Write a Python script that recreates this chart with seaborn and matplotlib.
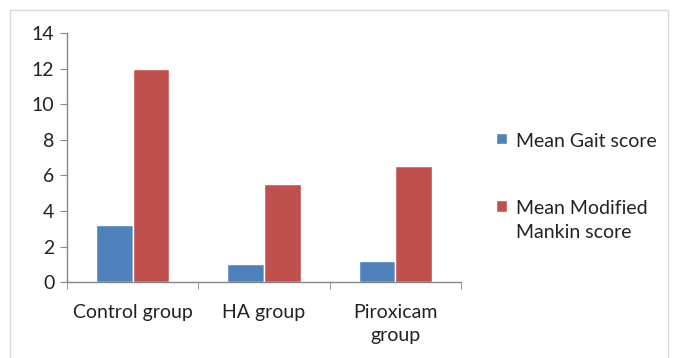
import pandas as pd
import numpy as np
import seaborn as sns
import matplotlib.pyplot as plt
from matplotlib.lines import Line2D

groups = ['Control group', 'HA group', 'Piroxicam\ngroup']
gait_score = [3.2, 1.0, 1.2]
mankin_score = [12.0, 5.5, 6.5]
series = ['Mean Gait score', 'Mean Modified\nMankin score']
colors = ['#4F81BD', '#C0504D']

df = pd.DataFrame({
    'group': groups * 2,
    'score': gait_score + mankin_score,
    'series': [series[0]] * 3 + [series[1]] * 3,
})

sns.set_style('white')
plt.rcParams['font.family'] = ['Lato', 'DejaVu Sans']

fig = plt.figure(figsize=(6.76, 3.58), dpi=100)
ax = fig.add_axes([0.099, 0.212, 0.583, 0.696])

sns.barplot(data=df, x='group', y='score', hue='series', palette=colors,
            width=0.56, saturation=1, ax=ax, legend=True)

ax.set_ylim(0, 14)
ax.set_yticks(range(0, 15, 2))
ax.set_xlim(-0.5, 2.5)
ax.set_xlabel('')
ax.set_ylabel('')

for s in ['top', 'right']:
    ax.spines[s].set_visible(False)
for s in ['left', 'bottom']:
    ax.spines[s].set_color('#868686')
    ax.spines[s].set_linewidth(1)

fs = 14
ax.tick_params(axis='y', which='major', left=True, length=5, color='#868686',
               labelsize=fs, labelcolor='#222222', pad=4)
ax.tick_params(axis='x', which='major', bottom=False, labelsize=fs,
               labelcolor='#222222', pad=12)
ax.set_xticks([-0.5, 0.5, 1.5, 2.5], minor=True)
ax.tick_params(axis='x', which='minor', bottom=True, length=5, color='#868686')
for lbl in ax.get_xticklabels():
    lbl.set_linespacing(1.45)
    lbl.set_verticalalignment('top')

leg = ax.legend(loc='upper left', bbox_to_anchor=(1.045, 0.67), frameon=False,
                fontsize=fs, handlelength=0.55, handleheight=0.55,
                handletextpad=0.45, labelspacing=2.6, labelcolor='#222222')
for t in leg.get_texts():
    t.set_linespacing(1.45)
# put the square next to the first line of a two-line label, as in the original
for col in leg._legend_handle_box.get_children():
    for item in col.get_children():
        item.align = 'top'

# light border around the chart area
border = '#D9D9D9'
fig.add_artist(Line2D([10/676, 668/676], [1 - 10/358, 1 - 10/358], color=border, lw=1))
fig.add_artist(Line2D([10/676, 10/676], [0, 1 - 10/358], color=border, lw=1))
fig.add_artist(Line2D([668/676, 668/676], [0, 1 - 10/358], color=border, lw=1))

fig.savefig('out.png', dpi=100)
